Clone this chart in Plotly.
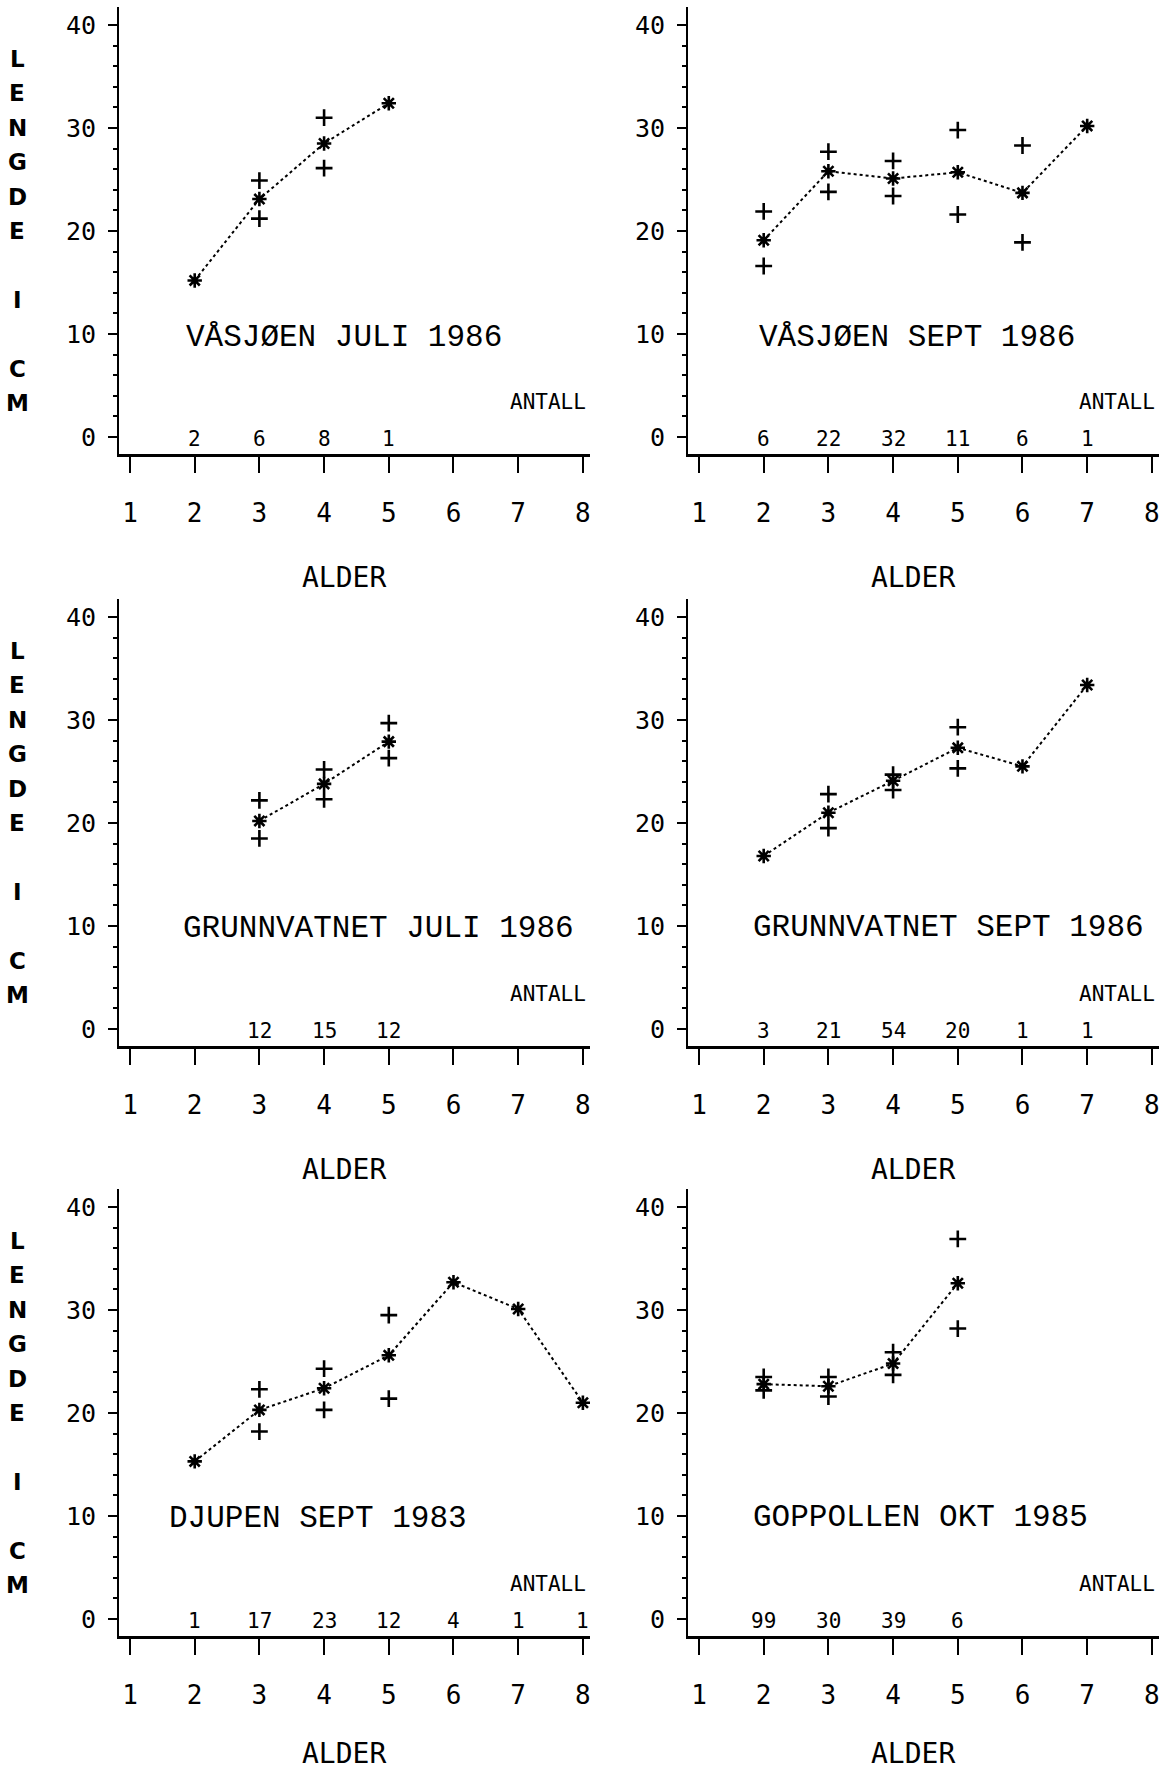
import plotly.graph_objects as go

W, H = 1160, 1771

# ---------------- data ----------------
AGE_TICKS = [1, 2, 3, 4, 5, 6, 7, 8]
LEN_TICKS = [0, 10, 20, 30, 40]

p1_title = "VÅSJØEN JULI 1986"
p1_age = [2, 3, 4, 5]
p1_mean = [15.2, 23.1, 28.5, 32.4]
p1_upper = [None, 24.9, 31.0, None]
p1_lower = [None, 21.2, 26.1, None]
p1_n = [2, 6, 8, 1]

p2_title = "VÅSJØEN SEPT 1986"
p2_age = [2, 3, 4, 5, 6, 7]
p2_mean = [19.1, 25.8, 25.1, 25.7, 23.7, 30.2]
p2_upper = [21.9, 27.7, 26.8, 29.8, 28.3, None]
p2_lower = [16.6, 23.8, 23.4, 21.6, 18.9, None]
p2_n = [6, 22, 32, 11, 6, 1]

p3_title = "GRUNNVATNET JULI 1986"
p3_age = [3, 4, 5]
p3_mean = [20.2, 23.8, 27.9]
p3_upper = [22.2, 25.2, 29.7]
p3_lower = [18.5, 22.3, 26.3]
p3_n = [12, 15, 12]

p4_title = "GRUNNVATNET SEPT 1986"
p4_age = [2, 3, 4, 5, 6, 7]
p4_mean = [16.8, 21.0, 24.1, 27.3, 25.5, 33.4]
p4_upper = [None, 22.8, 24.7, 29.3, None, None]
p4_lower = [None, 19.5, 23.2, 25.3, None, None]
p4_n = [3, 21, 54, 20, 1, 1]

p5_title = "DJUPEN SEPT 1983"
p5_age = [2, 3, 4, 5, 6, 7, 8]
p5_mean = [15.3, 20.3, 22.4, 25.6, 32.7, 30.1, 21.0]
p5_upper = [None, 22.3, 24.3, 29.5, None, None, None]
p5_lower = [None, 18.2, 20.3, 21.4, None, None, None]
p5_n = [1, 17, 23, 12, 4, 1, 1]

p6_title = "GOPPOLLEN OKT 1985"
p6_age = [2, 3, 4, 5]
p6_mean = [22.8, 22.6, 24.8, 32.6]
p6_upper = [23.5, 23.5, 25.9, 36.9]
p6_lower = [22.2, 21.6, 23.7, 28.2]
p6_n = [99, 30, 39, 6]

Y_TITLE = "LENGDE I CM"
X_TITLE = "ALDER"
N_LABEL = "ANTALL"

panels = [
    (p1_title, p1_age, p1_mean, p1_upper, p1_lower, p1_n),
    (p2_title, p2_age, p2_mean, p2_upper, p2_lower, p2_n),
    (p3_title, p3_age, p3_mean, p3_upper, p3_lower, p3_n),
    (p4_title, p4_age, p4_mean, p4_upper, p4_lower, p4_n),
    (p5_title, p5_age, p5_mean, p5_upper, p5_lower, p5_n),
    (p6_title, p6_age, p6_mean, p6_upper, p6_lower, p6_n),
]

# ---------------- layout geometry ----------------
X_RANGE = [0.83, 8.11]
Y_RANGE = [-1.65, 41.7]
PX_PER_UNIT = 10.3
ROW_ZERO_PX = [437, 1029, 1619]
COL_DOM_PX = [(119, 590), (688, 1159)]
ALDER_OFFSET = [124, 124, 118]

TITLE_POS = [(1.83, 9.7), (1.90, 9.7), (1.79, 9.8), (1.80, 9.9), (1.57, 9.8), (1.80, 9.9)]

SANS = "DejaVu Sans Mono"
MONO = "Liberation Mono"


def py(px):
    return 1 - px / H


fig = go.Figure()
layout = dict(
    width=W, height=H,
    margin=dict(l=0, r=0, t=0, b=0),
    paper_bgcolor="white", plot_bgcolor="white",
    showlegend=False,
    annotations=[],
)

for i, (title, age, mean, upper, lower, n) in enumerate(panels):
    k = i + 1
    row, col = i // 2, i % 2
    xs = "" if k == 1 else str(k)
    xname, yname = "x" + xs, "y" + xs
    zero = ROW_ZERO_PX[row]
    top = zero - Y_RANGE[1] * PX_PER_UNIT
    bot = zero - Y_RANGE[0] * PX_PER_UNIT
    x0, x1 = COL_DOM_PX[col]

    layout["xaxis" + xs] = dict(
        domain=[x0 / W, x1 / W], anchor=yname, range=X_RANGE,
        tickmode="array", tickvals=AGE_TICKS, ticktext=[str(a) for a in AGE_TICKS],
        ticks="outside", ticklen=16, tickwidth=2, tickcolor="black",
        showline=True, linewidth=3, linecolor="black",
        showgrid=False, zeroline=False, ticklabelstandoff=18,
        tickfont=dict(family=SANS, size=26, color="black"),
        fixedrange=True,
    )
    layout["yaxis" + xs] = dict(
        domain=[py(bot), py(top)], anchor=xname, range=Y_RANGE,
        tickmode="array", tickvals=LEN_TICKS, ticktext=[str(v) for v in LEN_TICKS],
        ticks="outside", ticklen=9, tickwidth=2, tickcolor="black",
        minor=dict(dtick=2, tick0=0, ticks="outside", ticklen=4, tickwidth=2,
                   tickcolor="black", showgrid=False),
        showline=True, linewidth=2, linecolor="black",
        showgrid=False, zeroline=False, ticklabelstandoff=7,
        tickfont=dict(family=SANS, size=25, color="black"),
        fixedrange=True,
    )

    # mean line with asterisks
    fig.add_trace(go.Scatter(
        x=age, y=mean, mode="lines+markers", xaxis=xname, yaxis=yname,
        line=dict(color="black", width=2, dash="3px,3px"),
        marker=dict(symbol="asterisk", size=12, color="black",
                    line=dict(color="black", width=2.6)),
        hoverinfo="skip",
    ))
    # +/- marks
    for arr in (upper, lower):
        fig.add_trace(go.Scatter(
            x=age, y=arr, mode="markers", xaxis=xname, yaxis=yname,
            marker=dict(symbol="cross-thin", size=12, color="black",
                        line=dict(color="black", width=2.6)),
            hoverinfo="skip",
        ))

    ann = layout["annotations"]
    # panel title
    tx, ty = TITLE_POS[i]
    ann.append(dict(text=title, x=tx, y=ty, xref=xname, yref=yname,
                    xanchor="left", yanchor="middle", showarrow=False,
                    font=dict(family=MONO, size=31, color="black")))
    # counts
    for a, c in zip(age, n):
        ann.append(dict(text=str(c), x=a, y=-0.2, xref=xname, yref=yname,
                        xanchor="center", yanchor="middle", showarrow=False,
                        font=dict(family=SANS, size=21, color="black")))
    # ANTALL
    ann.append(dict(text=N_LABEL, x=8.08, y=3.4, xref=xname, yref=yname,
                    xanchor="right", yanchor="middle", showarrow=False,
                    font=dict(family=SANS, size=21, color="black")))
    # ALDER
    ann.append(dict(text=X_TITLE, x=4.3, y=py(bot + ALDER_OFFSET[row]), xref=xname, yref="paper",
                    xanchor="center", yanchor="middle", showarrow=False,
                    font=dict(family=SANS, size=28, color="black")))
    # vertical LENGDE I CM on left panels
    if col == 0:
        for j, ch in enumerate(Y_TITLE):
            if ch == " ":
                continue
            ann.append(dict(text=ch, x=17 / W, y=36.7 - j * 3.34, xref="paper", yref=yname,
                            xanchor="center", yanchor="middle", showarrow=False,
                            font=dict(family="DejaVu Sans", size=23, color="black", weight="bold")))

fig.update_layout(**layout)
fig.write_html("out.html", config={"displayModeBar": False})
